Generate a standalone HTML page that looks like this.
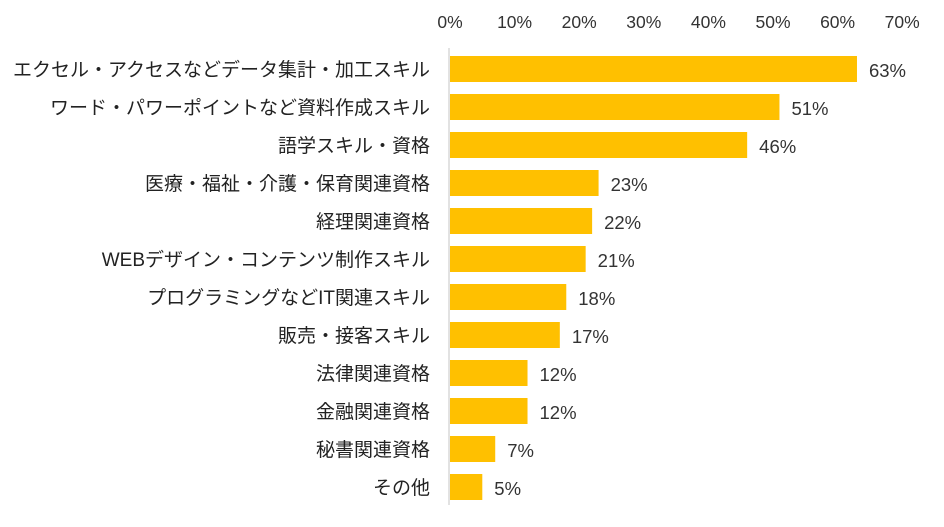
<!DOCTYPE html>
<html><head><meta charset="utf-8"><style>
body{margin:0;background:#fff;}
svg{display:block;font-family:"Liberation Sans","Noto Sans CJK JP",sans-serif;}
</style></head><body>
<svg id="chart" width="944" height="527"></svg>
<script>
const categories=["エクセル・アクセスなどデータ集計・加工スキル","ワード・パワーポイントなど資料作成スキル","語学スキル・資格","医療・福祉・介護・保育関連資格","経理関連資格","WEBデザイン・コンテンツ制作スキル","プログラミングなどIT関連スキル","販売・接客スキル","法律関連資格","金融関連資格","秘書関連資格","その他"];
const values=[63,51,46,23,22,21,18,17,12,12,7,5];
const ticks=[0,10,20,30,40,50,60,70];
const NS="http://www.w3.org/2000/svg";
const svg=document.getElementById('chart');
const x=v=>450+v*6.46;
const y=i=>56+i*38;
function mk(t,a,txt){const e=document.createElementNS(NS,t);for(const k in a)e.setAttribute(k,a[k]);if(txt!=null)e.textContent=txt;svg.appendChild(e);return e;}
ticks.forEach(t=>{const e=mk('text',{x:x(t),y:28,'text-anchor':'middle','font-size':17.5,fill:'#333'},t+'%');

});
const ax=mk('line',{x1:449,y1:48,x2:449,y2:505,stroke:'#d9d9d9','stroke-width':1.5});


categories.forEach((c,i)=>{
const b=mk('rect',{x:x(0),y:y(i),width:x(values[i])-x(0),height:26,fill:'#FFC000'});


const l=mk('text',{x:430,y:y(i)+20,'text-anchor':'end','font-size':19,fill:'#222'},c);


const v=mk('text',{x:x(values[i])+12,y:y(i)+21,'font-size':18.5,fill:'#333'},values[i]+'%');


});
</script>
</body></html>
